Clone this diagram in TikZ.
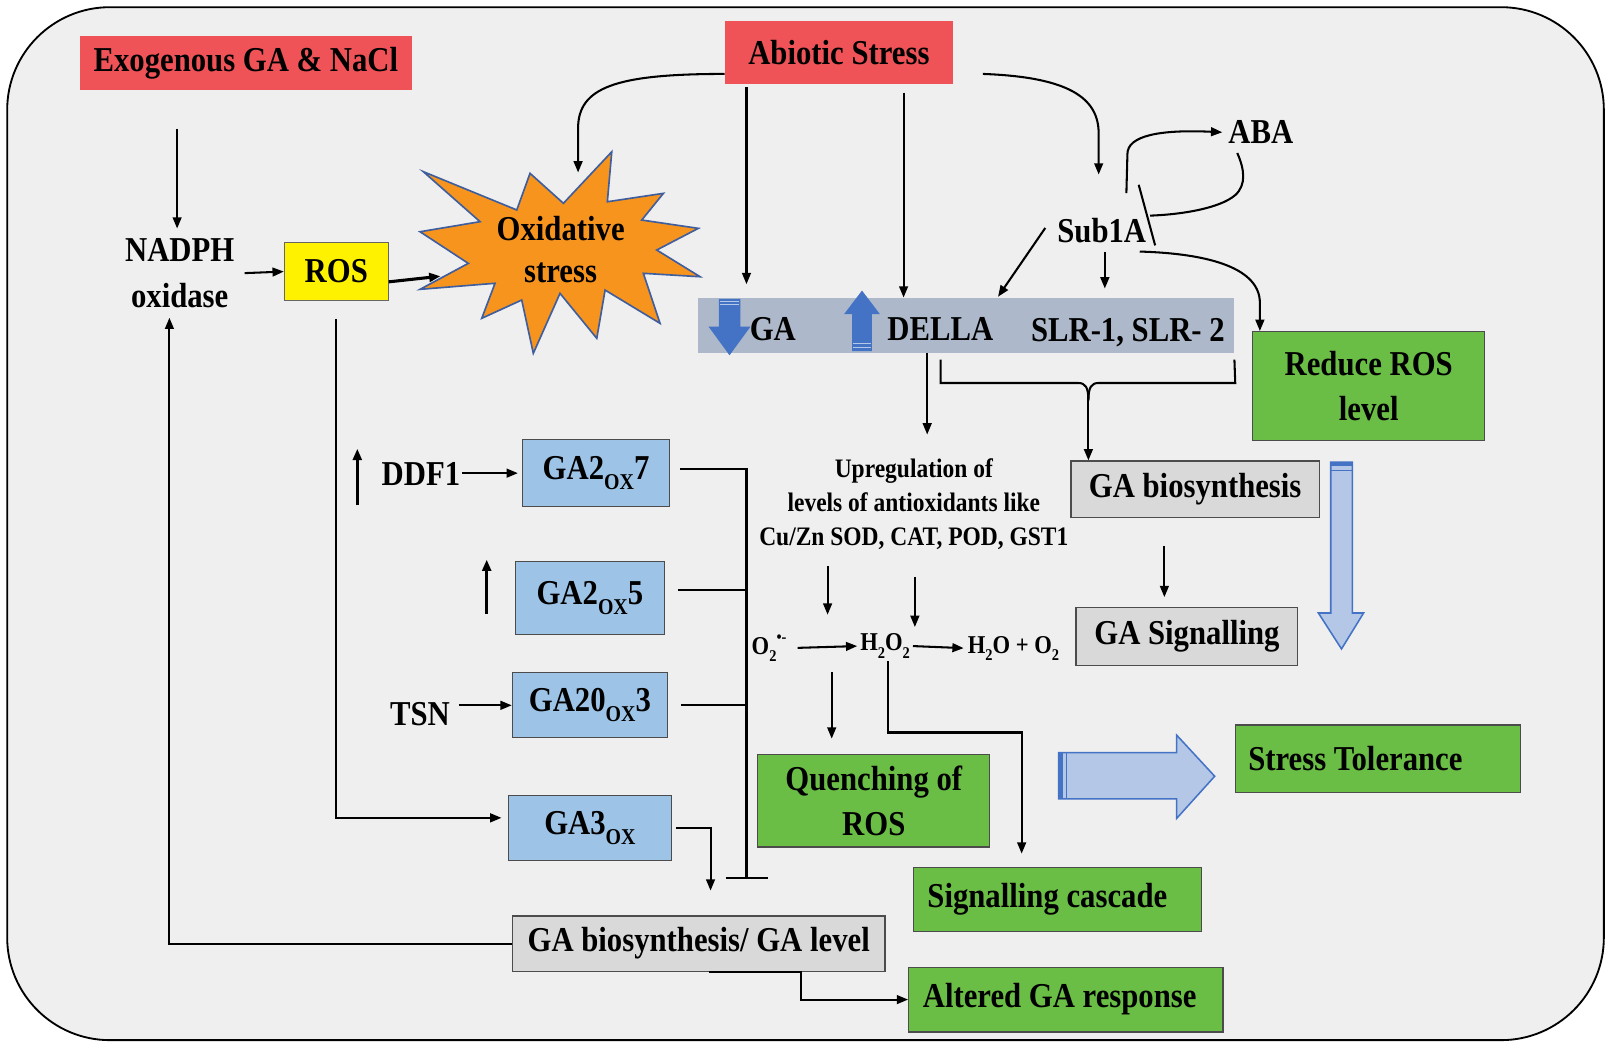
\documentclass[tikz,border=0pt]{standalone}
\usepackage{fontspec}
\setmainfont{Liberation Serif}[FakeStretch=0.88]
\usetikzlibrary{arrows.meta,calc}
\definecolor{bg}{HTML}{EFEFEF}
\definecolor{redb}{HTML}{EF5358}
\definecolor{yel}{HTML}{FFF200}
\definecolor{orng}{HTML}{F7941D}
\definecolor{starb}{HTML}{3F5E9E}
\definecolor{barc}{HTML}{ADB9CA}
\definecolor{arrb}{HTML}{4472C4}
\definecolor{lblue}{HTML}{9DC3E6}
\definecolor{grn}{HTML}{6ABD45}
\definecolor{gry}{HTML}{D9D9D9}
\definecolor{hol}{HTML}{B4C7E7}
\newcommand\dn[2][22]{\raisebox{-0.28em}{\fontsize{#1}{#1}\selectfont #2}}
\newcommand\upx[1]{\raisebox{0.45em}{\fontsize{16}{16}\selectfont #1}}
\begin{document}
\begin{tikzpicture}[x=1pt,y=-1pt,
  every node/.style={font=\fontsize{34}{44}\selectfont\bfseries, text=black},
  ln/.style={line width=2pt},
  arr/.style={line width=2pt,-{Triangle[length=11pt,width=8.5pt]}},
  rbox/.style={fill=redb, inner sep=0pt},
  gbox/.style={fill=grn, draw=black!70, line width=1.2pt, inner sep=0pt, align=center},
  bbox/.style={fill=lblue, draw=black!70, line width=1.2pt, inner sep=0pt},
  ybox/.style={fill=gry, draw=black!70, line width=1.2pt, inner sep=0pt},
  txt/.style={inner sep=0pt, outer sep=6pt, align=center},
]
\useasboundingbox (0,0) rectangle (1568,1019);
\fill[white] (0,0) rectangle (1568,1019);
\draw[fill=bg, line width=1.8pt, rounded corners=100pt] (7,7) rectangle (1562,1013);

% ---- top row
\node[rbox, minimum width=323, minimum height=53] (exo) at (239.5,61.5) {Exogenous GA \& NaCl};
\node[rbox, minimum width=222, minimum height=62] (abio) at (817,51) {Abiotic Stress};
\node[txt, outer sep=10pt] (nadph) at (175,266) {NADPH\\oxidase};
\node[fill=yel, draw=black!60, line width=1.2pt, minimum width=101, minimum height=57, inner sep=0pt] (ros) at (327.5,264.5) {ROS};

% ---- star
\filldraw[fill=orng, draw=starb, line width=1.6pt]
 (595.8,147.8) -- (591.5,196.5) -- (646.1,188.3) -- (625,214.3) -- (680.1,222.4) -- (639.6,243.5) --
 (681.8,269.5) -- (626.6,266.2) -- (642.8,314.9) -- (589.3,282.5) -- (581.2,329.5) -- (545.4,285.7) --
 (519.4,344.1) -- (508.1,292.2) -- (469.2,310) -- (482.1,275.9) -- (409.1,281.8) -- (456.1,256.5) --
 (409.1,225.7) -- (467.5,215.9) -- (412.3,167.2) -- (503.3,204.5) -- (516.2,168.8) -- (548.7,198) -- cycle;
\node[txt, font=\fontsize{34}{41}\selectfont\bfseries] (ox) at (546,243) {Oxidative\\stress};
\coordinate (starL) at (429,269);
\coordinate (starT) at (563,168);

% ---- bar
\node[fill=barc, minimum width=522, minimum height=54, inner sep=0pt] (bar) at (941,317) {};
\fill[arrb] (700,291) -- (721,291) -- (721,318) -- (731,318) -- (710.5,346) -- (690,318) -- (700,318) -- cycle;
\draw[hol, line width=1pt] (701,294) -- (720,294) (701,297) -- (720,297);
\fill[arrb] (839.5,283) -- (857,306) -- (849,306) -- (849,342) -- (830,342) -- (830,306) -- (822,306) -- cycle;
\draw[hol, line width=1pt] (831,335) -- (848,335) (831,338) -- (848,338);
\node[inner sep=0pt, anchor=base west] (ga) at (730,332) {GA};
\node[inner sep=0pt, anchor=base west] (della) at (864,332) {DELLA};
\node[inner sep=0pt, anchor=base east] (slr) at (1193,333) {SLR-1, SLR- 2};

% ---- Sub1A / ABA
\node[txt, anchor=base] (sub) at (1073,236) {Sub1A};
\node[txt, anchor=base] (aba) at (1228,140) {ABA};
\coordinate (subT) at (1070,170);
\coordinate (dellaT) at (972,289);

% ---- right side
\node[gbox, minimum width=226, minimum height=106, font=\fontsize{34}{43}\selectfont\bfseries] (red) at (1333,376) {Reduce ROS\\level};
\node[ybox, minimum width=242, minimum height=55] (gab) at (1164,476.5) {GA biosynthesis};
\node[ybox, minimum width=216, minimum height=56] (gas) at (1156,620) {GA Signalling};
\node[gbox, minimum width=278, minimum height=66] (st) at (1342,739) {\hspace*{-44pt}Stress Tolerance};

% hollow arrows
\filldraw[fill=hol, draw=arrb, line width=1.5pt] (1296,450) -- (1317,450) -- (1317,597) -- (1328,597) -- (1306.5,632) -- (1284,597) -- (1296,597) -- cycle;
\fill[arrb] (1296,450) rectangle (1317,454);
\draw[arrb, line width=1.2pt] (1296,458) -- (1317,458);
\filldraw[fill=hol, draw=arrb, line width=1.5pt] (1031,733) -- (1146,733) -- (1146,716) -- (1183,756) -- (1146,797) -- (1146,778) -- (1031,778) -- cycle;
\fill[arrb] (1031,733) rectangle (1035,778);
\draw[arrb, line width=1.2pt] (1039,733) -- (1039,778);

% ---- middle
\node[txt, font=\fontsize{26}{33.5}\selectfont\bfseries] (up) at (890,491) {Upregulation of\\levels of antioxidants like\\Cu/Zn SOD, CAT, POD, GST1};
\node[inner sep=0pt, outer sep=5pt, anchor=base, font=\fontsize{25}{30}\selectfont\bfseries] (o2) at (749,637) {O\dn[16]{2}\upx{•-}};
\node[inner sep=0pt, outer sep=3pt, anchor=base, font=\fontsize{25}{30}\selectfont\bfseries] (h2o2) at (862,634) {H\dn[16]{2}O\dn[16]{2}};
\node[inner sep=0pt, outer sep=4pt, anchor=base, font=\fontsize{25}{30}\selectfont\bfseries] (h2o) at (987,636) {H\dn[16]{2}O + O\dn[16]{2}};
\node[gbox, minimum width=226, minimum height=90, font=\fontsize{34}{43}\selectfont\bfseries] (q) at (851,780) {Quenching of\\ROS};
\node[gbox, minimum width=280, minimum height=62] (sc) at (1030,876) {\hspace*{-20pt}Signalling cascade};
\node[gbox, minimum width=306, minimum height=63] (alt) at (1038,973.5) {\hspace*{-12pt}Altered GA response};

% ---- GA boxes
\node[bbox, minimum width=143, minimum height=65] (g7) at (580.5,460.5) {GA2\dn{OX}7};
\node[bbox, minimum width=145, minimum height=71] (g5) at (574.5,582.5) {GA2\dn{OX}5};
\node[bbox, minimum width=151, minimum height=63] (g20) at (574.5,686.5) {GA20\dn{OX}3};
\node[bbox, minimum width=159, minimum height=63] (g3) at (574.5,806.5) {GA3\dn{OX}};
\node[txt, anchor=base, outer sep=2pt] (ddf) at (410,473) {DDF1};
\node[txt, anchor=base] (tsn) at (409,707) {TSN};
\node[ybox, minimum width=363, minimum height=54] (gal) at (680.5,919) {GA biosynthesis/ GA level};

% ---- connectors: left
\draw[arr] ([xshift=-67pt]exo.south) ++(0,37) -- ([xshift=-2.5pt]nadph.north);
\draw[arr] (nadph.east) -- (ros.west);
\draw[arr, line width=3pt] ([yshift=-10pt]ros.east) -- (starL);
\draw[arr, shorten >=6pt] (ros.south) ++(0,17) |- ([yshift=10pt]g3.west);
\draw[arr] (gal.west) -| ([xshift=-10pt]nadph.south);
\draw[arr] ([xshift=10pt]gal.south) -- ([xshift=100pt]gal.south) |- (alt.west);

% ---- abiotic stress
\draw[arr] ([yshift=-21pt]abio.west) .. controls +(-106,0) and +(0,-40) .. (563,125) -- (starT);
\draw[arr] ([xshift=-90pt]abio.south) ++(0,3) -- ([shift={(-214,-13)}]bar.north);
\draw[arr] ([xshift=63pt]abio.south) ++(0,8) -- ([xshift=-61pt]bar.north);
\draw[arr] ([shift={(29,21)}]abio.east) .. controls +(83,3) and +(0,-35) .. (1070,130) -- (subT);

% ---- Sub1A
\draw[arr] (1097,188) -- (1098,150) .. controls (1098,132) and (1130,126) .. (aba.west);
\draw[ln] (1205,149) .. controls (1212,165) and (1214,180) .. (1203,190) .. controls (1188,203) and (1150,209) .. (1120,210);
\draw[ln] (1109,180) -- (1125,239);
\draw[arr] (1018,222) -- (dellaT);
\draw[arr] (1076,245) -- (1076,281);
\draw[arr] (1110,245) .. controls (1180,247) and (1227,262) .. (1227,295) -- ([xshift=-106pt]red.north);

% ---- bar outputs
\draw[arr] ([xshift=-38pt]bar.south) -- ++(0,79);
\draw[ln] ([xshift=-25pt,yshift=-6pt]bar.south) -- (916,373) -- (1050,373) .. controls (1057,373) and (1060,377) .. (1060,390);
\draw[ln] ([yshift=-6pt]bar.south east) -- (1203,373) -- (1070,373) .. controls (1063,373) and (1060,377) .. (1060,390);
\draw[arr] (1060,385) -- ([xshift=-104pt]gab.north);
\draw[arr] ([xshift=-30pt]gab.south) ++(0,27) -- ++(0,50);

% ---- antioxidant chain
\draw[arr] ([xshift=-84pt]up.south) ++(0,10) -- ++(0,47);
\draw[arr] ([xshift=1pt]up.south) ++(0,20) -- ++(0,49);
\draw[arr, shorten <=6pt] (o2.east) -- (h2o2.west);
\draw[arr] (h2o2.east) -- (h2o.west);
\draw[arr] ([xshift=-41pt]q.north) ++(0,-80) -- ++(0,65);
\draw[arr, shorten >=13pt] ([xshift=3pt]h2o2.south) |- ($(sc.north)+(-35,-131)$) -- ([xshift=-35pt]sc.north);

% ---- GA oxidases
\draw[arr, shorten >=4pt] ([yshift=1pt]ddf.east) -- ([yshift=1pt]ddf.east -| g7.west);
\draw[arr] ([xshift=3pt,yshift=9pt]tsn.east) -- ([yshift=9pt]tsn.east -| g20.west);
\draw[arr, line width=3pt] (348,492) -- (348,437);
\draw[arr, line width=3pt] (474,598) -- (474,545);
\coordinate (vtop) at (727,457);
\coordinate (vbot) at (727,855);
\draw[ln] ([xshift=10pt,yshift=3.5pt]g7.east) -- (vtop) -- (vbot);
\draw[ln] ([xshift=13pt,yshift=7.5pt]g5.east) -- (vtop |- 0,575);
\draw[ln] ([xshift=13pt]g20.east) -- (vtop |- g20.east);
\draw[ln] ([xshift=-20pt]vbot) -- ([xshift=21pt]vbot);
\draw[arr, shorten >=24pt] ([xshift=4pt]g3.east) -| ([xshift=11.5pt]gal.north);
\end{tikzpicture}
\end{document}
